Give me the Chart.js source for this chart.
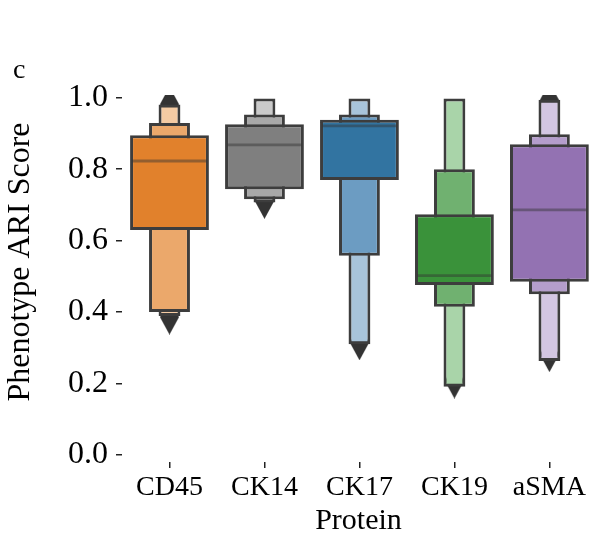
<!DOCTYPE html>
<html>
<head>
<meta charset="utf-8">
<script src="https://cdn.jsdelivr.net/npm/chart.js@4.4.1/dist/chart.umd.min.js"></script>
<style>
  html, body { margin: 0; padding: 0; background: #ffffff; }
  #wrap { width: 595px; height: 539px; position: relative; }
</style>
</head>
<body>
<div id="wrap"><canvas id="chart" width="595" height="539"></canvas></div>
<script>
// Letter-value (boxen) summary of phenotype ARI score per protein
const categories = ['CD45', 'CK14', 'CK17', 'CK19', 'aSMA'];
const medians    = [0.823, 0.868, 0.921, 0.502, 0.686];
// innermost letter values (quartiles)
const lv1Low  = [0.630, 0.744, 0.770, 0.476, 0.485];
const lv1High = [0.895, 0.926, 0.938, 0.674, 0.870];
// eighths
const lv2Low  = [0.400, 0.716, 0.558, 0.415, 0.450];
const lv2High = [0.929, 0.953, 0.953, 0.800, 0.898];
// sixteenths
const lv3Low  = [0.389, 0.707, 0.310, 0.191, 0.263];
const lv3High = [0.981, 0.998, 0.998, 0.998, 0.994];
// outlying points
const outlierIdx = [0, 1, 2, 3, 4, 0, 4];
const outlierVal = [0.386, 0.710, 0.314, 0.207, 0.281, 0.982, 0.994];
const yTicks = [0.0, 0.2, 0.4, 0.6, 0.8, 1.0];

const lv1Colors = ['#e1812c', '#7f7f7f', '#3274a1', '#3a923a', '#9372b2'];
const lv2Colors = ['#eba86b', '#a8a8a8', '#6c9cc2', '#70b170', '#b49dcb'];
const lv3Colors = ['#f4cba3', '#cacaca', '#a8c4da', '#a9d4a9', '#d3c6e2'];
const edge = '#3d3d3d';
const FONT = "'Liberation Serif', 'Times New Roman', serif";

// thin diamond used for outliers
function diamond() {
  const w = 19, h = 35;
  const c = document.createElement('canvas');
  c.width = w; c.height = h;
  const g = c.getContext('2d');
  g.fillStyle = '#333333';
  g.beginPath();
  g.moveTo(w / 2, 0); g.lineTo(w, h / 2); g.lineTo(w / 2, h); g.lineTo(0, h / 2);
  g.closePath(); g.fill();
  return c;
}

function boxSet(low, high, colors, pct, order) {
  return {
    type: 'bar',
    data: categories.map((c, i) => ({ x: i, y: [low[i], high[i]] })),
    backgroundColor: colors,
    borderColor: edge,
    borderWidth: 3,
    borderSkipped: false,
    grouped: false,
    categoryPercentage: 1,
    barPercentage: pct,
    order: order
  };
}

const datasets = [
  {
    type: 'scatter',
    data: outlierIdx.map((i, k) => ({ x: i, y: outlierVal[k] })),
    pointStyle: diamond(),
    pointRadius: 10,
    clip: 0,
    order: 10
  },
  boxSet(lv3Low, lv3High, lv3Colors, 0.23, 3),
  boxSet(lv2Low, lv2High, lv2Colors, 0.43, 2),
  boxSet(lv1Low, lv1High, lv1Colors, 0.83, 1),
  {
    type: 'bar',
    data: categories.map((c, i) => ({ x: i, y: [medians[i] - 0.004, medians[i] + 0.004] })),
    backgroundColor: 'rgba(50,50,50,0.45)',
    borderWidth: 0,
    grouped: false,
    categoryPercentage: 1,
    barPercentage: 0.78,
    order: 0
  }
];

// panel letter and rotated y-axis title
const extraText = {
  id: 'extraText',
  afterDraw(chart) {
    const ctx = chart.ctx;
    ctx.save();
    ctx.fillStyle = '#000';
    ctx.font = '28px ' + FONT;
    ctx.textAlign = 'left';
    ctx.textBaseline = 'alphabetic';
    ctx.fillText('c', 13, 78);
    ctx.translate(29, 262);
    ctx.rotate(-Math.PI / 2);
    ctx.font = '32px ' + FONT;
    ctx.textAlign = 'center';
    ctx.fillText('Phenotype ARI Score', 0, 0);
    ctx.restore();
  }
};

new Chart(document.getElementById('chart'), {
  data: { datasets },
  options: {
    responsive: false,
    animation: false,
    events: [],
    layout: { autoPadding: false, padding: { left: 0, right: 0, top: 95, bottom: 0 } },
    plugins: { legend: { display: false }, tooltip: { enabled: false } },
    scales: {
      x: {
        type: 'linear',
        min: -0.5,
        max: 4.48,
        offset: false,
        border: { display: false },
        grid: { display: true, offset: false, drawOnChartArea: false, tickLength: 6, color: '#222', lineWidth: 1.5 },
        afterBuildTicks: s => { s.ticks = categories.map((c, i) => ({ value: i })); },
        afterFit: s => { s.height = 77; s.paddingLeft = 0; s.paddingRight = 0; },
        ticks: {
          autoSkip: false,
          maxRotation: 0,
          padding: 3,
          color: '#000',
          font: { family: FONT, size: 28 },
          callback: v => categories[v]
        },
        title: { display: true, text: 'Protein', color: '#000', padding: { top: 0, bottom: 0 }, font: { family: FONT, size: 30 } }
      },
      y: {
        type: 'linear',
        min: -0.0196,
        max: 1.0076,
        border: { display: false },
        grid: { display: true, drawOnChartArea: false, tickLength: 6, color: '#222', lineWidth: 1.5 },
        afterBuildTicks: s => { s.ticks = yTicks.map(v => ({ value: v })); },
        afterFit: s => { s.width = 122; s.paddingTop = 0; s.paddingBottom = 0; },
        ticks: {
          padding: 8,
          color: '#000',
          font: { family: FONT, size: 32 },
          callback: v => v.toFixed(1)
        }
      }
    }
  },
  plugins: [extraText]
});
</script>
</body>
</html>
